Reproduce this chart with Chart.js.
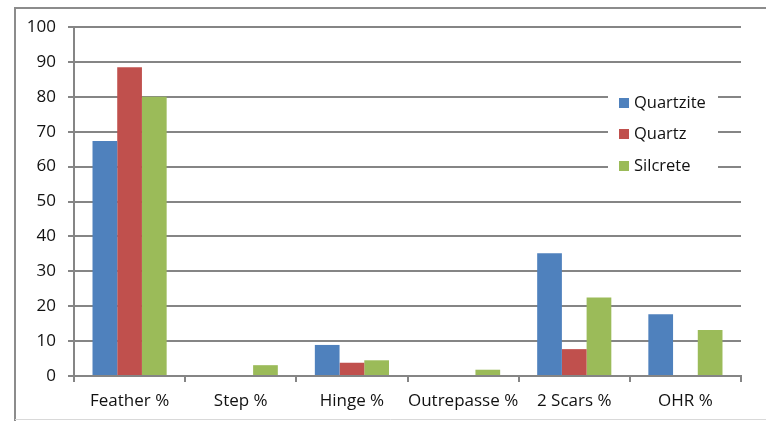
<!DOCTYPE html>
<html>
<head>
<meta charset="utf-8">
<script src="https://cdn.jsdelivr.net/npm/chart.js@4/dist/chart.umd.min.js"></script>
<style>
html,body{margin:0;padding:0;background:#fff;}
#wrap{width:766px;height:421px;position:relative;}
</style>
</head>
<body>
<div id="wrap"><canvas id="c" width="766" height="421"></canvas></div>
<script>
const categories = ["Feather %", "Step %", "Hinge %", "Outrepasse %", "2 Scars %", "OHR %"];
const quartzite = [67.3, 0, 8.9, 0, 35.2, 17.7];
const quartz = [88.5, 0, 3.8, 0, 7.7, 0];
const silcrete = [80, 3.1, 4.5, 1.8, 22.5, 13.2];
const seriesNames = ["Quartzite", "Quartz", "Silcrete"];
const seriesColors = ["#4F81BD", "#C0504D", "#9BBB59"];
const yTicks = [0, 10, 20, 30, 40, 50, 60, 70, 80, 90, 100];

const FONT = "'Open Sans', 'Liberation Sans', sans-serif";

const framePlugin = {
  id: 'frame',
  beforeDraw(chart) {
    const ctx = chart.ctx;
    ctx.save();
    ctx.fillStyle = '#fff';
    ctx.fillRect(0, 0, chart.width, chart.height);
    ctx.strokeStyle = '#8c8c8c';
    ctx.lineWidth = 2;
    ctx.beginPath();
    ctx.moveTo(15, 421);
    ctx.lineTo(15, 8);
    ctx.lineTo(766, 8);
    ctx.stroke();
    ctx.strokeStyle = '#d9d9d9';
    ctx.lineWidth = 1;
    ctx.beginPath();
    ctx.moveTo(15, 419.5);
    ctx.lineTo(766, 419.5);
    ctx.stroke();
    ctx.restore();
  }
};

const legendPlugin = {
  id: 'boxLegend',
  afterDraw(chart) {
    const ctx = chart.ctx;
    ctx.save();
    ctx.fillStyle = '#fff';
    ctx.fillRect(608, 86, 110, 94);
    const ys = [103, 134, 166];
    chart.data.datasets.forEach((ds, i) => {
      ctx.fillStyle = ds.backgroundColor;
      ctx.fillRect(619, ys[i] - 5, 10, 10);
      ctx.fillStyle = '#111';
      ctx.font = '16.5px ' + FONT;
      ctx.textBaseline = 'middle';
      ctx.textAlign = 'left';
      ctx.fillText(ds.label, 634, ys[i]);
    });
    ctx.restore();
  }
};

new Chart(document.getElementById('c'), {
  type: 'bar',
  data: {
    labels: categories,
    datasets: [
      { label: seriesNames[0], data: quartzite, backgroundColor: seriesColors[0] },
      { label: seriesNames[1], data: quartz, backgroundColor: seriesColors[1] },
      { label: seriesNames[2], data: silcrete, backgroundColor: seriesColors[2] }
    ]
  },
  options: {
    responsive: false,
    animation: false,
    devicePixelRatio: 1,
    layout: { padding: { left: 0, top: 27, right: 25, bottom: 0 } },
    datasets: { bar: { categoryPercentage: 0.667, barPercentage: 1.0, borderWidth: 0 } },
    plugins: { legend: { display: false }, tooltip: { enabled: false } },
    scales: {
      x: {
        grid: { display: true, drawOnChartArea: false, drawTicks: true, tickLength: 6, color: '#858585', lineWidth: 2 },
        border: { display: true, color: '#858585', width: 2 },
        ticks: { color: '#111', font: { family: FONT, size: 17 }, padding: 9, maxRotation: 0, autoSkip: false },
        afterFit(scale) { scale.height = 45; }
      },
      y: {
        min: 0, max: 100,
        afterBuildTicks(scale) { scale.ticks = yTicks.map(v => ({ value: v })); },
        grid: { color: '#858585', lineWidth: 2, tickLength: 6 },
        border: { display: true, color: '#858585', width: 2 },
        ticks: { color: '#111', font: { family: FONT, size: 17 }, padding: 12 },
        afterFit(scale) { scale.width = 74; }
      }
    }
  },
  plugins: [framePlugin, legendPlugin]
});
</script>
</body>
</html>
